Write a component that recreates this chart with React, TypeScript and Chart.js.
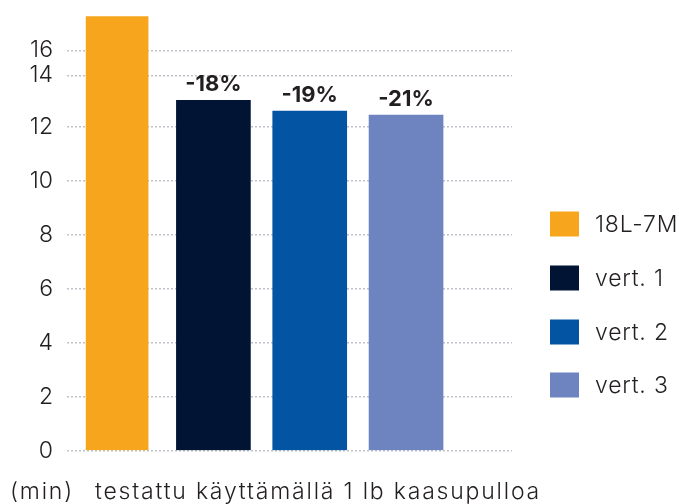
import React, { useEffect, useRef } from "react";
import { Chart, registerables } from "chart.js";

Chart.register(...registerables);

const categories = ["18L-7M", "vert. 1", "vert. 2", "vert. 3"];
const values = [16.1, 13.0, 12.6, 12.45];
const changeLabels = ["", "-18%", "-19%", "-21%"];
const colors = ["#F7A51D", "#011433", "#0355A3", "#6E84C0"];
const barWidths = [62, 74, 74, 74];
const tickValues = [0, 2, 4, 6, 8, 10, 12, 13.92, 14.85];
const tickLabels = ["0", "2", "4", "6", "8", "10", "12", "14", "16"];
const unitLabel = "(min)";
const caption = "testattu käyttämällä 1 lb kaasupulloa";

const FONT = "Inter, sans-serif";
const TEXT = "#231F20";

const overlayPlugin = {
  id: "overlay",
  afterDatasetsDraw(chart: any) {
    const ctx = chart.ctx;
    ctx.save();
    ctx.font = `bold 22px ${FONT}`;
    ctx.fillStyle = TEXT;
    ctx.textAlign = "center";
    ctx.textBaseline = "alphabetic";
    chart.data.datasets.forEach((ds: any, i: number) => {
      const el = chart.getDatasetMeta(i).data[0];
      const t = changeLabels[i];
      if (el && t) ctx.fillText(t, el.x, el.y - 9);
    });
    ctx.font = `300 23px ${FONT}`;
    ctx.textAlign = "left";
    ctx.textBaseline = "middle";
    (ctx as any).letterSpacing = "0.8px";
    const legendY = [224, 278, 332, 385];
    chart.data.datasets.forEach((ds: any, i: number) => {
      const cy = legendY[i];
      ctx.fillStyle = ds.backgroundColor;
      ctx.fillRect(550, cy - 12.5, 29, 25);
      ctx.fillStyle = TEXT;
      ctx.fillText(ds.label, 595, cy + 1);
    });
    (ctx as any).letterSpacing = "1.8px";
    ctx.fillText(unitLabel, 10, 492);
    ctx.fillText(caption, 95, 492);
    ctx.restore();
  },
};

export default function App() {
  const ref = useRef<HTMLCanvasElement>(null);
  useEffect(() => {
    const chart = new Chart(ref.current!, {
      type: "bar",
      data: {
        datasets: categories.map((c, i) => ({
          label: c,
          data: [{ x: i, y: values[i] }],
          backgroundColor: colors[i],
          barThickness: barWidths[i],
        })),
      } as any,
      options: {
        animation: false,
        responsive: false,
        grouped: false,
        layout: { autoPadding: false, padding: { top: 14, right: 167, bottom: 53.4, left: 0 } },
        plugins: { legend: { display: false }, tooltip: { enabled: false } },
        scales: {
          x: { type: "linear", min: -0.52, max: 4.1, offset: false, display: false },
          y: {
            min: 0,
            max: 16.2,
            afterBuildTicks: (scale: any) => {
              scale.ticks = tickValues.map((v) => ({ value: v }));
            },
            afterFit: (scale: any) => {
              scale.width = 67;
              scale.paddingTop = 0;
              scale.paddingBottom = 0;
            },
            ticks: {
              padding: 14,
              color: TEXT,
              font: { family: FONT, size: 23, weight: "300" as any },
              callback: (_v: any, idx: number) => tickLabels[idx],
            },
            grid: { color: "#BEC2C8", lineWidth: 1.5, drawTicks: false },
            border: { display: false, dash: [2, 2] },
          },
        },
      } as any,
      plugins: [overlayPlugin],
    });
    return () => chart.destroy();
  }, []);
  return (
    <div style={{ position: "fixed", left: 0, top: 0, width: 679, height: 504 }}>
      <canvas ref={ref} width={679} height={504} />
    </div>
  );
}
